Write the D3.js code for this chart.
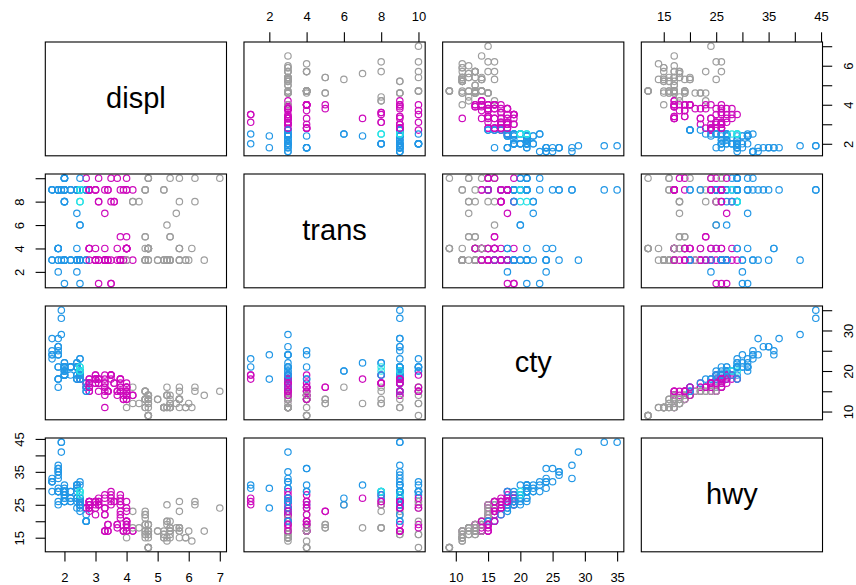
<!DOCTYPE html>
<html>
<head>
<meta charset="utf-8">
<script src="https://cdn.jsdelivr.net/npm/d3@7"></script>
<style>
  body { margin: 0; background: #fff; }
  svg { display: block; font-family: "Liberation Sans", Arial, sans-serif; }
</style>
</head>
<body>
<div id="chart"></div>
<script>
// mpg data, row order kept (audi, chevrolet, dodge, ford, honda, hyundai, jeep,
// land rover, lincoln, mercury, nissan, pontiac, subaru, toyota, volkswagen)
var displ = [
  1.8,1.8,2.0,2.0,2.8,2.8,3.1,1.8,1.8,2.0,2.0,2.8,2.8,3.1,3.1,2.8,3.1,4.2,
  5.3,5.3,5.3,5.7,6.0,5.7,5.7,6.2,6.2,7.0,5.3,5.3,5.7,6.5,2.4,2.4,3.1,3.5,3.6,
  2.4,3.0,3.3,3.3,3.3,3.3,3.3,3.8,3.8,3.8,4.0, 3.7,3.7,3.9,3.9,4.7,4.7,4.7,5.2,5.2,
  3.9,4.7,4.7,4.7,5.2,5.7,5.9, 4.7,4.7,4.7,4.7,4.7,4.7,5.2,5.2,5.7,5.9,
  4.6,5.4,5.4, 4.0,4.0,4.0,4.0,4.6,5.0, 4.2,4.2,4.6,4.6,4.6,5.4,5.4, 3.8,3.8,4.0,4.0,4.6,4.6,4.6,4.6,5.4,
  1.6,1.6,1.6,1.6,1.6,1.8,1.8,1.8,2.0,
  2.4,2.4,2.4,2.4,2.5,2.5,3.3, 2.0,2.0,2.0,2.0,2.7,2.7,2.7,
  3.0,3.7,4.0,4.7,4.7,4.7,5.7,6.1,
  4.0,4.2,4.4,4.6,
  5.4,5.4,5.4,
  4.0,4.0,4.6,5.0,
  2.4,2.4,2.5,2.5,3.5,3.5, 3.0,3.0,3.5, 3.3,3.3,4.0,5.6,
  3.1,3.8,3.8,3.8,5.3,
  2.5,2.5,2.5,2.5,2.5,2.5, 2.2,2.2,2.5,2.5,2.5,2.5,2.5,2.5,
  2.7,2.7,3.4,3.4,4.0,4.7, 2.2,2.2,2.4,2.4,3.0,3.0,3.5, 2.2,2.2,2.4,2.4,3.0,3.0,3.3,
  1.8,1.8,1.8,1.8,1.8, 4.7,5.7, 2.7,2.7,2.7,3.4,3.4,4.0,4.0,
  2.0,2.0,2.0,2.0,2.8, 1.9,2.0,2.0,2.0,2.0,2.5,2.5,2.8,2.8, 1.9,1.9,2.0,2.0,2.5,2.5, 1.8,1.8,2.0,2.0,2.8,2.8,3.6
];
var cyl = [
  4,4,4,4,6,6,6,4,4,4,4,6,6,6,6,6,6,8,
  8,8,8,8,8,8,8,8,8,8,8,8,8,8,4,4,6,6,6,
  4,6,6,6,6,6,6,6,6,6,6, 6,6,6,6,8,8,8,8,8,
  6,8,8,8,8,8,8, 8,8,8,8,8,8,8,8,8,8,
  8,8,8, 6,6,6,6,8,8, 6,6,8,8,8,8,8, 6,6,6,6,8,8,8,8,8,
  4,4,4,4,4,4,4,4,4,
  4,4,4,4,6,6,6, 4,4,4,4,6,6,6,
  6,6,6,8,8,8,8,8,
  8,8,8,8,
  8,8,8,
  6,6,8,8,
  4,4,4,4,6,6, 6,6,6, 6,6,6,8,
  6,6,6,6,8,
  4,4,4,4,4,4, 4,4,4,4,4,4,4,4,
  4,4,6,6,6,8, 4,4,4,4,6,6,6, 4,4,4,4,6,6,6,
  4,4,4,4,4, 8,8, 4,4,4,6,6,6,6,
  4,4,4,4,6, 4,4,4,4,4,5,5,6,6, 4,4,4,4,5,5, 4,4,4,4,6,6,6
];
var transLevels = ["auto(av)","auto(l3)","auto(l4)","auto(l5)","auto(l6)",
                   "auto(s4)","auto(s5)","auto(s6)","manual(m5)","manual(m6)"];
// short codes: av l3 l4 l5 l6 s4 s5 s6 m5 m6
var trans = [
  "l5","m5","m6","av","l5","m5","av","m5","l5","m6","s6","l5","m5","s6","m6","l5","s6","s6",
  "l4","l4","l4","l4","l4","m6","l4","m6","s6","m6","l4","l4","l4","l4","l4","l4","l4","l4","s6",
  "l3","l4","l4","l4","l4","l4","l4","l4","l4","l6","l6", "m6","l4","l4","m5","l5","l5","l5","m5","l4",
  "l4","l5","l5","l5","l4","l5","l4", "m6","l5","l5","l5","m6","m6","l4","m5","l5","l4",
  "l4","l4","l6", "l5","m5","l5","l5","l6","l4", "l4","m5","m5","l4","l4","l4","l4", "m5","l4","m5","l5","l4","m5","m5","l5","m6",
  "m5","l4","m5","m5","l4","m5","l5","l5","m6",
  "l4","m5","l4","m5","l4","m5","l5", "l4","m5","m5","l4","l4","m6","m5",
  "l5","l5","l4","l4","l5","l5","l5","l5",
  "l4","s6","s6","l4",
  "l4","l4","l6",
  "l5","l5","l6","l4",
  "m5","l4","av","m6","m6","av", "l4","m5","av", "l4","m5","l5","s5",
  "l4","l4","l4","l4","s4",
  "m5","l4","m5","m5","l4","l4", "l4","m5","m5","l4","s4","s4","m5","m5",
  "m5","l4","l4","m5","l5","l5", "m5","l4","m5","l5","l4","m5","s6", "l4","m5","m5","s5","l4","m5","s5",
  "l3","l4","m5","m5","l4", "l4","s6", "m5","l4","m5","m5","l4","m6","l5",
  "m5","l4","m6","s6","m5", "m5","m5","l4","s6","m6","s6","m5","l4","m5", "m5","l4","m5","l4","m5","s6", "m5","l5","s6","m6","l5","m5","s6"
];
var cty = [
  18,21,20,21,16,18,18,18,16,20,19,15,17,17,15,15,17,16,
  14,11,14,13,12,16,15,16,15,15,14,11,11,14,19,22,18,18,17,
  18,17,16,16,17,17,11,15,15,16,16, 15,14,13,14,14,14,9,11,11,
  13,13,9,13,11,13,11, 12,9,13,13,12,9,11,11,13,11,
  11,11,12, 14,15,14,13,13,13, 14,14,13,13,13,11,13, 18,18,17,16,15,15,15,15,14,
  28,24,25,23,24,26,25,24,21,
  18,18,21,21,18,18,19, 19,19,20,20,17,16,17,
  17,15,15,14,9,14,13,11,
  11,12,12,11,
  11,11,12,
  14,13,13,13,
  21,19,23,23,19,19, 18,19,19, 14,15,14,12,
  18,16,17,18,16,
  18,18,20,19,20,18, 21,19,19,19,20,20,19,20,
  15,16,15,15,16,14, 21,21,21,21,19,18,19, 21,21,21,22,18,18,18,
  24,24,26,28,26, 11,13, 15,16,17,15,15,15,16,
  21,19,21,22,17, 33,21,19,22,21,21,21,16,17, 35,29,21,19,20,20, 21,18,19,21,16,18,17
];
var hwy = [
  29,29,31,30,26,26,27,26,25,28,27,25,25,25,25,24,25,23,
  20,15,20,17,17,26,23,26,25,24,19,14,15,17,27,30,26,29,26,
  24,24,22,22,24,24,17,22,21,23,23, 19,18,17,17,19,19,12,17,15,
  17,17,12,17,16,18,15, 16,12,17,17,16,12,15,16,17,15,
  17,17,18, 17,19,17,19,19,17, 17,17,16,16,17,15,17, 26,25,26,24,21,22,23,22,20,
  33,32,32,29,32,34,36,36,29,
  26,27,30,31,26,26,28, 26,29,28,27,24,24,24,
  22,19,20,17,12,19,18,14,
  15,18,18,15,
  17,16,18,
  17,19,19,17,
  29,27,31,32,27,26, 26,25,25, 17,17,20,18,
  26,26,27,28,25,
  25,24,27,25,26,23, 26,26,26,26,25,27,25,27,
  20,20,19,17,20,17, 29,27,31,31,26,26,28, 27,29,31,31,26,26,27,
  30,33,35,37,35, 15,18, 20,20,22,17,19,18,20,
  29,26,29,29,24, 44,29,26,29,29,29,29,23,24, 44,41,29,26,28,29, 29,29,28,29,26,26,26
];

var varNames = ["displ", "trans", "cty", "hwy"];
var tickVals = [[2,3,4,5,6,7], [2,4,6,8,10], [10,15,20,25,30,35], [15,20,25,30,35,40,45]];
var hLabels = [[2,3,4,5,6,7], [2,4,6,8,10], [10,15,20,25,30,35], [15,25,35,45]];
var vLabels = [[2,4,6], [2,4,6,8], [10,20,30], [15,25,35,45]];

// colour = palette()[cyl] in R 4
var cylColors = {4: "#2297E6", 5: "#28E2E5", 6: "#CD0BBC", 8: "#9E9E9E"};

var transCode = trans.map(function(t){
  var full = (t[0] == "m" ? "manual(" : "auto(") + t + ")";
  return transLevels.indexOf(full) + 1;
});
var cols = [displ, transCode, cty, hwy];

var W = 856, H = 585;
var x0 = 45.3, y0 = 42;
var pw = 181.2, ph = 113.8;
var stepX = 198.67, stepY = 132;
var tickLen = 9.7;

var svg = d3.select("#chart").append("svg").attr("width", W).attr("height", H);

// R style: range widened by 4% on each side
var xs = [], ys = [];
cols.forEach(function(v){
  var ext = d3.extent(v), r = ext[1] - ext[0];
  var dom = [ext[0] - 0.04*r, ext[1] + 0.04*r];
  xs.push(d3.scaleLinear().domain(dom).range([0, pw]));
  ys.push(d3.scaleLinear().domain(dom).range([ph, 0]));
});

var n = varNames.length;
for (var i = 0; i < n; i++) {
  for (var j = 0; j < n; j++) {
    var g = svg.append("g").attr("transform", "translate(" + (x0 + j*stepX) + "," + (y0 + i*stepY) + ")");
    if (i == j) {
      g.append("text")
        .attr("x", pw/2).attr("y", ph/2 + 8.8)
        .attr("text-anchor", "middle")
        .attr("font-size", 29)
        .attr("fill", "#000")
        .text(varNames[i]);
    } else {
      (function(ii, jj, gg){
        gg.selectAll("circle")
          .data(d3.range(displ.length))
          .enter()
          .append("circle")
          .attr("cx", function(k){ return xs[jj](cols[jj][k]); })
          .attr("cy", function(k){ return ys[ii](cols[ii][k]); })
          .attr("r", 3.2)
          .attr("fill", "none")
          .attr("stroke", function(k){ return cylColors[cyl[k]]; })
          .attr("stroke-width", 1.2);
      })(i, j, g);
    }
    g.append("rect")
      .attr("x", 0).attr("y", 0).attr("width", pw).attr("height", ph)
      .attr("fill", "none").attr("stroke", "#000").attr("stroke-width", 1.1);
  }
}

function styleAxis(ax){
  ax.select(".domain").remove();
  ax.attr("font-size", null).attr("font-family", null);
  ax.selectAll("line").attr("stroke", "#000").attr("stroke-width", 1.1);
  ax.selectAll("text").attr("fill", "#000").attr("font-size", 13);
}

// x axes: bottom for odd-numbered columns, top for even
for (var j = 0; j < n; j++) {
  var bottom = (j % 2 == 0);
  var labs = hLabels[j];
  var axis = (bottom ? d3.axisBottom(xs[j]) : d3.axisTop(xs[j]))
    .tickValues(tickVals[j])
    .tickSize(tickLen)
    .tickPadding(11.2)
    .tickFormat(function(d){ return labs.indexOf(d) >= 0 ? d : ""; });
  var ax = svg.append("g")
    .attr("transform", "translate(" + (x0 + j*stepX) + "," + (bottom ? y0 + (n-1)*stepY + ph : y0) + ")")
    .call(axis);
  styleAxis(ax);
}

// y axes: left for even-numbered rows, right for odd; labels rotated like R
for (var i = 0; i < n; i++) {
  var left = (i % 2 == 1);
  var vl = vLabels[i];
  var axis = (left ? d3.axisLeft(ys[i]) : d3.axisRight(ys[i]))
    .tickValues(tickVals[i])
    .tickSize(tickLen)
    .tickFormat(function(d){ return vl.indexOf(d) >= 0 ? d : ""; });
  var ax = svg.append("g")
    .attr("transform", "translate(" + (left ? x0 : x0 + (n-1)*stepX + pw) + "," + (y0 + i*stepY) + ")")
    .call(axis);
  styleAxis(ax);
  ax.selectAll("text")
    .attr("x", null).attr("dy", null)
    .attr("text-anchor", "middle")
    .attr("dominant-baseline", "central")
    .attr("transform", "translate(" + (left ? -25.5 : 26) + ",0) rotate(-90)");
}
</script>
</body>
</html>
